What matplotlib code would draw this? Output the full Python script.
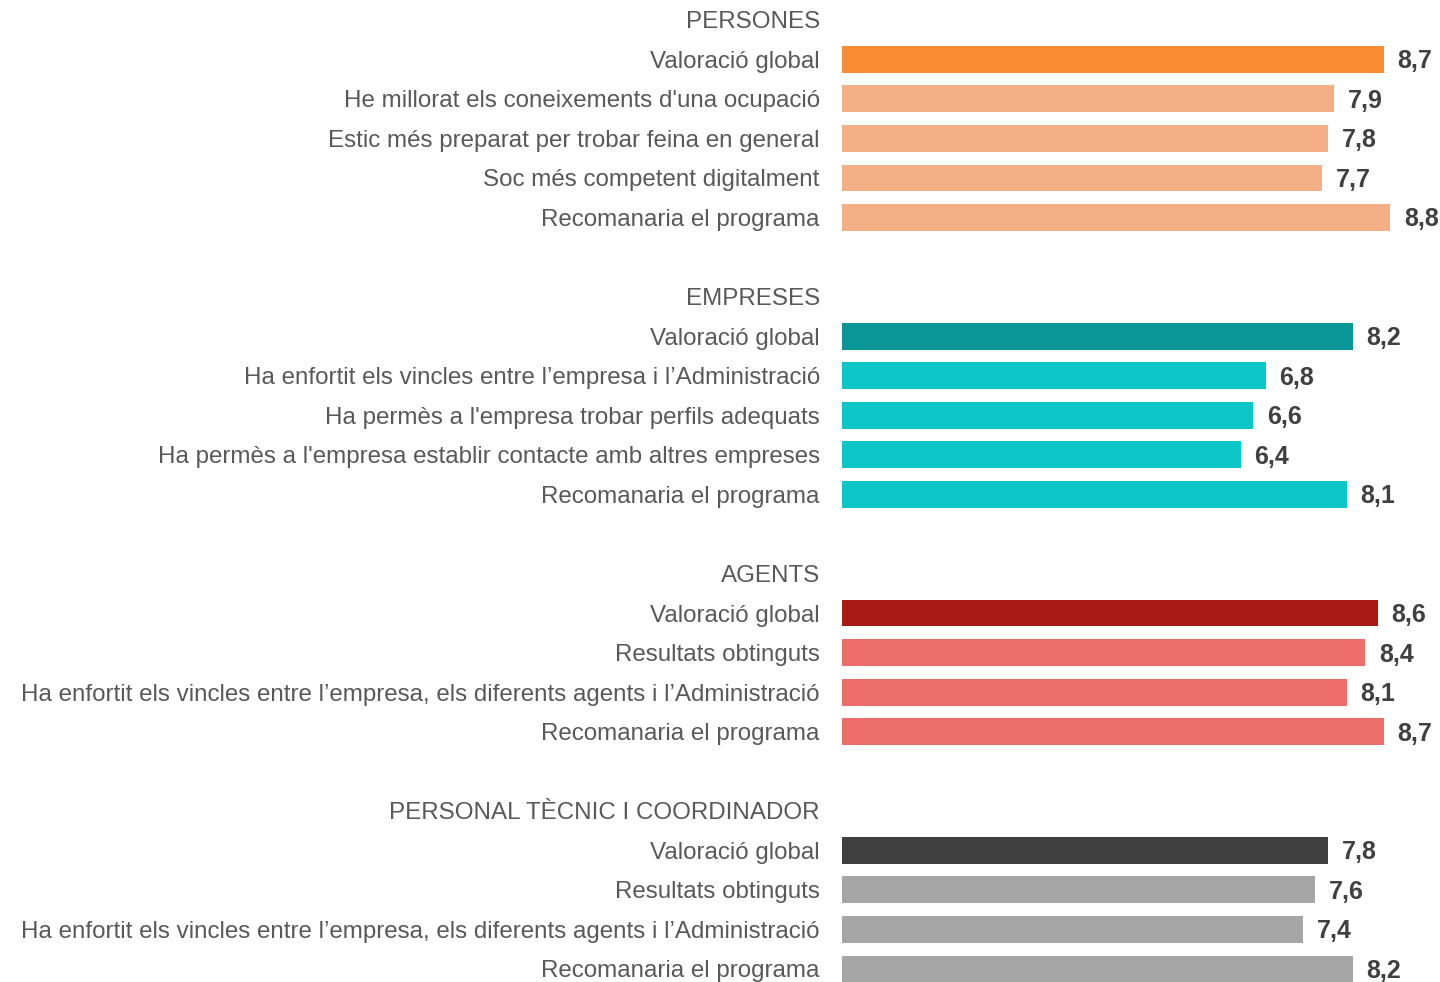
import matplotlib.pyplot as plt

plt.rcParams['font.family'] = ['Liberation Sans', 'DejaVu Sans']

groups = ['PERSONES', 'EMPRESES', 'AGENTS', 'PERSONAL TÈCNIC I COORDINADOR']

persones_labels = ['Valoració global',
                   "He millorat els coneixements d'una ocupació",
                   'Estic més preparat per trobar feina en general',
                   'Soc més competent digitalment',
                   'Recomanaria el programa']
persones_values = [8.7, 7.9, 7.8, 7.7, 8.8]

empreses_labels = ['Valoració global',
                   'Ha enfortit els vincles entre l’empresa i l’Administració',
                   "Ha permès a l'empresa trobar perfils adequats",
                   "Ha permès a l'empresa establir contacte amb altres empreses",
                   'Recomanaria el programa']
empreses_values = [8.2, 6.8, 6.6, 6.4, 8.1]

agents_labels = ['Valoració global',
                 'Resultats obtinguts',
                 'Ha enfortit els vincles entre l’empresa, els diferents agents i l’Administració',
                 'Recomanaria el programa']
agents_values = [8.6, 8.4, 8.1, 8.7]

tecnic_labels = ['Valoració global',
                 'Resultats obtinguts',
                 'Ha enfortit els vincles entre l’empresa, els diferents agents i l’Administració',
                 'Recomanaria el programa']
tecnic_values = [7.8, 7.6, 7.4, 8.2]

# (main colour, other colour) per group
group_colors = [('#F98B33', '#F4AF86'),
                ('#0A9697', '#0CC6C7'),
                ('#A71A15', '#ED6E6A'),
                ('#404040', '#A6A6A6')]

all_labels = [persones_labels, empreses_labels, agents_labels, tecnic_labels]
all_values = [persones_values, empreses_values, agents_values, tecnic_values]

fig = plt.figure(figsize=(14.4, 9.82), dpi=100)
ax = fig.add_axes([842 / 1440, 0, 598 / 1440, 1])

tick_pos, tick_lab = [], []
row = 0
for g, (name, labs, vals, cols) in enumerate(zip(groups, all_labels, all_values, group_colors)):
    if g > 0:
        row += 1  # blank row between groups
    tick_pos.append(row)
    tick_lab.append(name)
    row += 1
    for i, (lab, v) in enumerate(zip(labs, vals)):
        c = cols[0] if i == 0 else cols[1]
        ax.barh(row, v, height=0.68, color=c)
        ax.text(v + 0.22, row + 0.05, f'{v:.1f}'.replace('.', ','), ha='left', va='center',
                fontsize=18, fontweight='bold', color='#404040')
        tick_pos.append(row)
        tick_lab.append(lab)
        row += 1

ax.set_yticks(tick_pos)
ax.set_yticklabels(tick_lab, fontsize=17.4, color='#595959')
ax.tick_params(axis='y', length=0, pad=16)
ax.set_xticks([])
ax.set_xlim(0, 598 / 62.3)
ax.set_ylim(24.33, -0.5)
for s in ax.spines.values():
    s.set_visible(False)

fig.savefig('out.png', dpi=100)
